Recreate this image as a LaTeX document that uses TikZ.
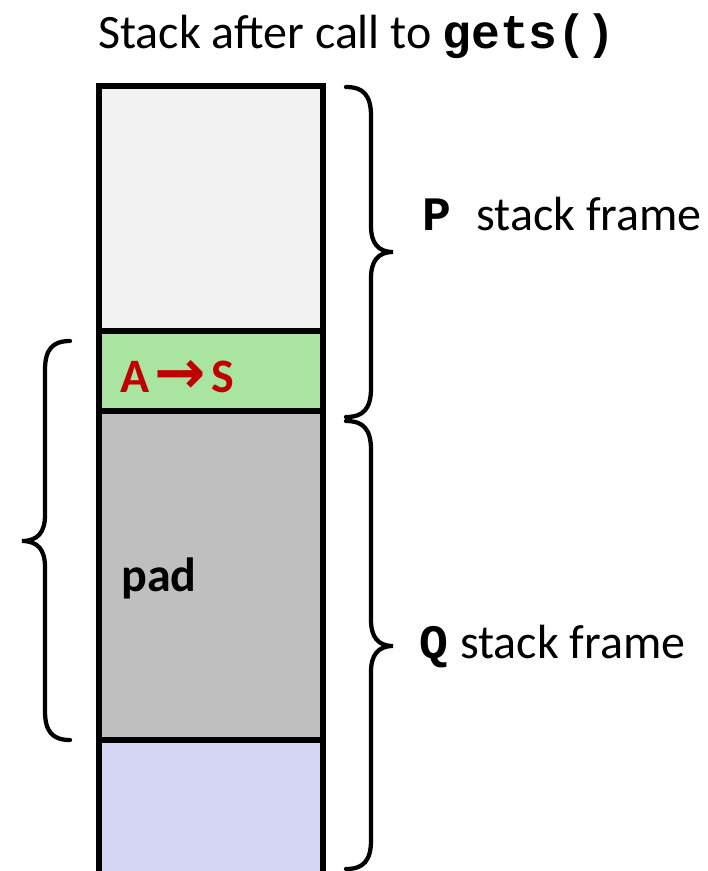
\documentclass[tikz,border=0pt]{standalone}
\usepackage{fontspec}
\setmainfont{Carlito}
\newfontfamily\monof{Liberation Mono}
\newfontfamily\arrowf{DejaVu Sans}
\definecolor{topc}{HTML}{F2F2F2}
\definecolor{greenc}{HTML}{A9E5A0}
\definecolor{grayc}{HTML}{BFBFBF}
\definecolor{bluec}{HTML}{D6D6F5}
\definecolor{redc}{HTML}{C00000}
\begin{document}
\begin{tikzpicture}[x=0.75pt,y=-0.75pt,
  cell/.style={draw=black,line width=4pt},
  bracep/.style={draw=black,line width=3.2pt,line cap=round},
  big/.style={font=\fontsize{36}{43}\selectfont},
]
\useasboundingbox (0,0) rectangle (707,871);
% cells
\path[cell,fill=topc] (99,86) rectangle (323,331);
\path[cell,fill=greenc] (99,331) rectangle (323,411);
\path[cell,fill=grayc] (99,411) rectangle (323,740);
\path[cell,fill=bluec] (99,740) rectangle (323,876);
% title
\node[big,anchor=base west,inner sep=0pt] (title) at (98,48) {Stack after call to \textbf{\monof gets()}};
% cell labels
\node[anchor=west,inner sep=0pt,text=redc,font=\fontsize{36}{43}\selectfont\bfseries] (as) at (120,377) {A\hspace{4pt}{\arrowf\bfseries\fontsize{46}{46}\selectfont\raisebox{-1pt}{→}}\hspace{4pt}S};
\node[anchor=west,inner sep=0pt,font=\fontsize{36}{43}\selectfont\bfseries] (pad) at (121,578) {pad};
% labels right
\node[anchor=west,inner sep=0pt,font=\fontsize{36}{43}\selectfont] (plab) at (422,214) {{\monof\bfseries P}\hspace{19pt}stack frame};
\node[anchor=west,inner sep=0pt,font=\fontsize{36}{43}\selectfont] (qlab) at (419,647) {{\monof\bfseries Q}\hspace{9pt}stack frame};
% P brace
\draw[bracep] (346,87) .. controls (364,87) and (371,96) .. (371,116) -- (371,226)
  .. controls (371,243) and (378,252) .. (393,252)
  .. controls (378,252) and (371,261) .. (371,278) -- (371,388)
  .. controls (371,408) and (364,417) .. (346,417);
% Q brace
\draw[bracep] (346,421) .. controls (364,421) and (371,430) .. (371,450) -- (371,620)
  .. controls (371,637) and (378,646) .. (393,646)
  .. controls (378,646) and (371,655) .. (371,672) -- (371,840)
  .. controls (371,860) and (364,869) .. (346,869);
% left brace
\draw[bracep] (70,341) .. controls (52,341) and (45,350) .. (45,370) -- (45,515)
  .. controls (45,532) and (38,541) .. (22,541)
  .. controls (38,541) and (45,550) .. (45,567) -- (45,711)
  .. controls (45,731) and (52,740) .. (70,740);
\end{tikzpicture}
\end{document}
